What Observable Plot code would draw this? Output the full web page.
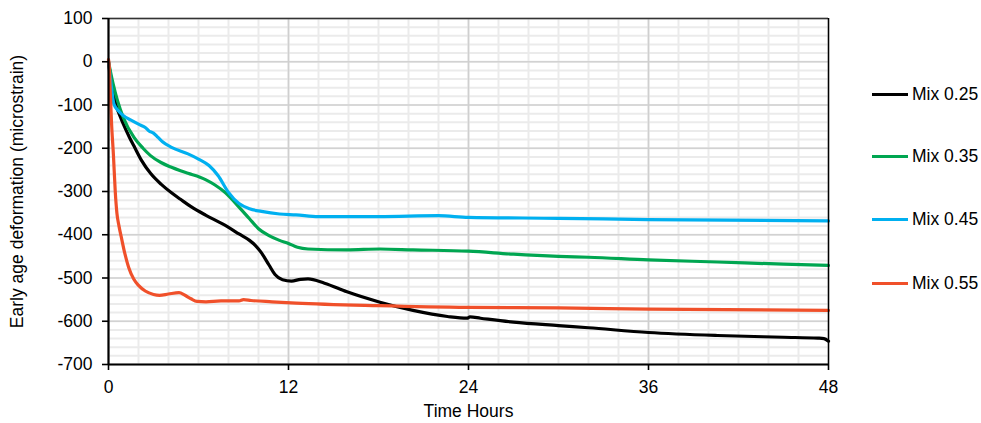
<!DOCTYPE html>
<html>
<head>
<meta charset="utf-8">
<script src="https://cdn.jsdelivr.net/npm/d3@7"></script>
<script src="https://cdn.jsdelivr.net/npm/@observablehq/plot@0.6"></script>
<style>
  html, body { margin: 0; padding: 0; background: #fff; }
  #wrap { position: relative; width: 981px; height: 423px; font-family: "Liberation Sans", Arial, sans-serif; }
  #legend { position: absolute; left: 0; top: 0; width: 981px; height: 423px; pointer-events: none; }
  .item { position: absolute; left: 872px; height: 20px; display: flex; align-items: center; font-size: 17.5px; color: #000; white-space: nowrap; }
  .item span.sw { display: inline-block; width: 36px; height: 3px; margin-right: 4px; }
</style>
</head>
<body>
<div id="wrap"><div id="legend"></div></div>
<script>
const seriesNames = ["Mix 0.25", "Mix 0.35", "Mix 0.45", "Mix 0.55"];
const seriesColors = ["#000000", "#00A651", "#00B0F0", "#F0502A"];

const hours25 = [0, 0.25, 0.5, 0.8, 1.0, 1.4, 1.7, 2.2, 2.8, 3.5, 4.2, 4.8, 5.5, 6.5, 7.6, 8.7, 9.4, 9.8, 10.2, 10.7, 11.1, 11.6, 12.2, 12.8, 13.3, 14.4, 15.9, 18.1, 20.3, 22.6, 23.9, 24.1, 24.8, 27, 30, 32, 36, 40.6, 45, 47.3, 47.7, 48];
const mix25 = [0, -60, -100, -128, -145, -175, -195, -228, -258, -283, -303, -318, -335, -355, -375, -398, -413, -425, -442, -470, -492, -504, -507, -503, -502, -512, -532, -556, -575, -589, -593, -590, -593, -602, -610, -615, -626, -633, -637, -639, -640, -646];

const hours35 = [0, 0.3, 0.6, 1.0, 1.7, 2.3, 2.8, 3.5, 4.2, 4.8, 5.3, 6.1, 6.5, 7.1, 7.8, 8.7, 9.4, 10.0, 10.7, 11.4, 12.0, 12.6, 13.3, 15.9, 18.1, 20.3, 24, 27, 30, 32, 36, 40.6, 45, 48];
const mix35 = [0, -50, -90, -130, -175, -200, -217, -233, -244, -252, -258, -267, -273, -285, -303, -336, -363, -386, -402, -413, -420, -429, -433, -435, -433, -435, -438, -445, -450, -452, -458, -463, -468, -471];

const hours45 = [0, 0.2, 0.36, 0.7, 1.0, 1.5, 2.1, 2.45, 2.7, 3.0, 3.3, 3.6, 4.2, 5.3, 6.0, 6.7, 7.3, 8.0, 8.7, 9.4, 10.2, 11.4, 12.5, 14, 18, 22, 24, 30, 36, 48];
const mix45 = [0, -60, -98, -115, -125, -135, -146, -152, -160, -165, -175, -185, -198, -213, -225, -240, -263, -302, -328, -340, -346, -352, -354, -358, -358, -356, -360, -362, -365, -368];

const hours55 = [0, 0.05, 0.11, 0.2, 0.33, 0.45, 0.56, 0.7, 0.85, 1.1, 1.34, 1.69, 2.0, 2.45, 3.0, 3.4, 4.0, 4.7, 5.1, 5.5, 5.9, 6.5, 7.5, 8.7, 9.0, 9.5, 10.9, 12.5, 18, 24, 30, 36, 48];
const mix55 = [5, -10, -63, -140, -217, -300, -350, -380, -405, -445, -475, -503, -517, -530, -538, -540, -537, -534, -540, -548, -554, -555, -553, -553, -550, -552, -555, -558, -564, -568, -569, -572, -575];

const xTicks = [0, 12, 24, 36, 48];
const yTicks = [-700, -600, -500, -400, -300, -200, -100, 0, 100];
const xMinor = d3.range(0, 49, 2);
const yMinor = d3.range(-700, 101, 20);
const xLabel = "Time Hours";
const yLabel = "Early age deformation (microstrain)";

const hoursAll = [hours25, hours35, hours45, hours55];
const valuesAll = [mix25, mix35, mix45, mix55];
const data = seriesNames.flatMap((s, i) => hoursAll[i].map((t, j) => ({series: s, t, v: valuesAll[i][j]})));

const chart = Plot.plot({
  width: 981,
  height: 423,
  marginLeft: 108,
  marginRight: 153,
  marginTop: 18,
  marginBottom: 59,
  x: {domain: [0, 48]},
  y: {domain: [-700, 100]},
  color: {domain: seriesNames, range: seriesColors},
  style: {fontFamily: "'Liberation Sans', Arial, sans-serif", fontSize: "17.5px", color: "#000", background: "#fff"},
  marks: [
    Plot.gridX(xMinor, {stroke: "#EBEBEB", strokeOpacity: 1, strokeWidth: 2}),
    Plot.gridY(yMinor, {stroke: "#EBEBEB", strokeOpacity: 1, strokeWidth: 2}),
    Plot.gridY(yTicks, {stroke: "#D2D2D2", strokeOpacity: 1, strokeWidth: 1.6}),
    Plot.gridX([12, 24, 36], {stroke: "#CFCFCF", strokeOpacity: 1, strokeWidth: 1.6}),
    Plot.line(data, {x: "t", y: "v", z: "series", stroke: "series", strokeWidth: 3.2, curve: "monotone-x"}),
    Plot.ruleY([100], {stroke: "#333", strokeWidth: 1.5}),
    Plot.ruleX([48], {stroke: "#000", strokeWidth: 1.5}),
    Plot.ruleX([0], {stroke: "#000", strokeWidth: 2.2}),
    Plot.ruleY([-700], {stroke: "#000", strokeWidth: 2.2}),
    Plot.axisY(yTicks, {tickSize: 6, tickPadding: 10, strokeWidth: 1.6, tickFormat: d => `${d}`, label: null, fontSize: 17.5}),
    Plot.axisX(xTicks, {tickSize: 6, tickPadding: 10, strokeWidth: 1.6, tickFormat: d => `${d}`, label: null, fontSize: 17.5}),
    Plot.text([xLabel], {frameAnchor: "bottom", dy: 52, fontSize: 17.5}),
    Plot.text([yLabel], {frameAnchor: "left", dx: -91, rotate: -90, textAnchor: "middle", fontSize: 17.5})
  ]
});

document.getElementById("wrap").prepend(chart);

const legend = document.getElementById("legend");
const legendY = [94, 156, 219, 283];
seriesNames.forEach((s, i) => {
  const div = document.createElement("div");
  div.className = "item";
  div.style.top = (legendY[i] - 10) + "px";
  const sw = document.createElement("span");
  sw.className = "sw";
  sw.style.background = seriesColors[i];
  div.appendChild(sw);
  const tx = document.createElement("span");
  tx.textContent = s;
  div.appendChild(tx);
  legend.appendChild(div);
});
</script>
</body>
</html>
